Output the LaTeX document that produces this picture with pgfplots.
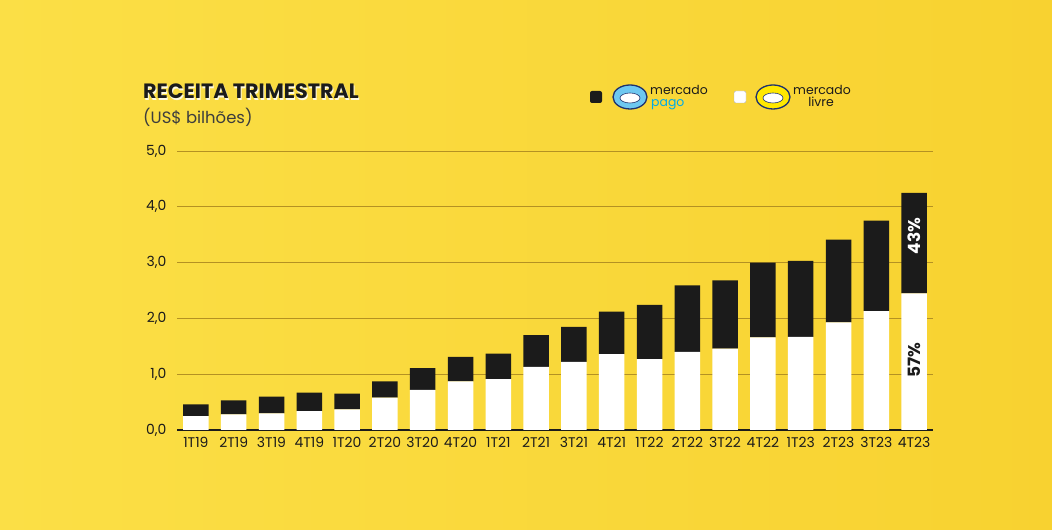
\documentclass[border=0pt]{standalone}
\usepackage{fontspec}
\setmainfont{Poppins}
\usepackage{pgfplots}
\pgfplotsset{compat=1.18}
\usepackage{pgfplotstable}

\definecolor{bgA}{RGB}{251,223,70}
\definecolor{bgB}{RGB}{248,210,48}
\definecolor{gridc}{RGB}{180,145,35}
\definecolor{ink}{RGB}{27,27,27}
\definecolor{mpsky}{RGB}{110,200,240}
\definecolor{mptext}{RGB}{0,170,230}
\definecolor{mlyel}{RGB}{255,232,0}
\definecolor{navy}{RGB}{30,50,110}

% white = Mercado Livre, black = Mercado Pago (US$ bi)
\pgfplotstableread{
x ml mp
0 0.25 0.21
1 0.28 0.25
2 0.30 0.30
3 0.34 0.33
4 0.37 0.28
5 0.58 0.29
6 0.72 0.39
7 0.87 0.44
8 0.91 0.46
9 1.13 0.57
10 1.22 0.63
11 1.36 0.76
12 1.27 0.97
13 1.40 1.19
14 1.46 1.22
15 1.66 1.34
16 1.67 1.36
17 1.93 1.48
18 2.13 1.62
19 2.45 1.80
}\receita

\begin{document}
\begin{tikzpicture}[x=1bp,y=1bp]
  \shade[left color=bgA, right color=bgB] (0,0) rectangle (1052,530);

  % title (with a light shadow)
  \node[anchor=base west, inner sep=0, text=white!85!bgA, font=\fontsize{20.8}{22}\selectfont\bfseries]
    at (144,429.8) {RECEITA TRIMESTRAL};
  \node[anchor=base west, inner sep=0, text=ink, font=\fontsize{20.8}{22}\selectfont\bfseries]
    at (143,431) {RECEITA TRIMESTRAL};
  \node[anchor=base west, inner sep=0, text=ink!85, font=\fontsize{16.5}{18}\selectfont]
    at (143,406) {(US\$ bilhões)};

  % legend
  \fill[ink, rounded corners=2bp] (590,427) rectangle (602,439);
  \filldraw[fill=mpsky, draw=navy, line width=1.3bp] (630,433) ellipse [x radius=17, y radius=12];
  \filldraw[fill=white, draw=navy, line width=0.6bp] (630,432) ellipse [x radius=10, y radius=5];
  \node[anchor=base west, inner sep=0, text=ink, font=\fontsize{12.5}{13}\selectfont] at (650,435) {mercado};
  \node[anchor=base west, inner sep=0, text=mptext, font=\fontsize{12.5}{13}\selectfont] at (651,423) {pago};

  \filldraw[fill=white, draw=gray!60, rounded corners=2bp] (734,427) rectangle (746,439);
  \filldraw[fill=mlyel, draw=navy, line width=1.3bp] (773,433) ellipse [x radius=17, y radius=12];
  \filldraw[fill=white, draw=navy, line width=0.6bp] (773,432) ellipse [x radius=10, y radius=5];
  \node[anchor=base west, inner sep=0, text=ink, font=\fontsize{12.5}{13}\selectfont] at (793,435) {mercado};
  \node[anchor=base, inner sep=0, text=ink, font=\fontsize{12.5}{13}\selectfont] at (821,423) {livre};

  \begin{axis}[
    at={(177bp,100bp)}, anchor=south west,
    scale only axis,
    width=756bp, height=279bp,
    ybar stacked,
    bar width=25.5bp,
    xmin=-0.5, xmax=19.5,
    ymin=0, ymax=5,
    axis x line*=bottom,
    axis y line*=left,
    y axis line style={draw=none},
    x axis line style={draw=ink, line width=1.4bp, -},
    major tick length=0pt,
    xtick={0,...,19},
    xticklabels={1T19,2T19,3T19,4T19,1T20,2T20,3T20,4T20,1T21,2T21,3T21,4T21,1T22,2T22,3T22,4T22,1T23,2T23,3T23,4T23},
    ytick={0,1,...,5},
    ymajorgrids=true,
    grid style={draw=gridc, line width=0.7bp},
    tick label style={text=ink, font=\fontsize{14}{15}\selectfont},
    yticklabel style={anchor=east, xshift=-7bp,
      /pgf/number format/.cd, use comma, fixed, fixed zerofill, precision=1, assume math mode=true},
    xticklabel style={yshift=-4bp},
  ]
    \addplot[fill=white, draw=none] table[x=x, y=ml] {\receita};
    \addplot[fill=ink, draw=none] table[x=x, y=mp] {\receita};
    \coordinate (pmp) at (axis cs:19,3.48);
    \coordinate (pml) at (axis cs:19,1.25);
  \end{axis}
  \node[rotate=90, text=white, font=\fontsize{17}{18}\selectfont\bfseries] at (pmp) {43\%};
  \node[rotate=90, text=ink, font=\fontsize{17}{18}\selectfont\bfseries] at (pml) {57\%};
\end{tikzpicture}
\end{document}
